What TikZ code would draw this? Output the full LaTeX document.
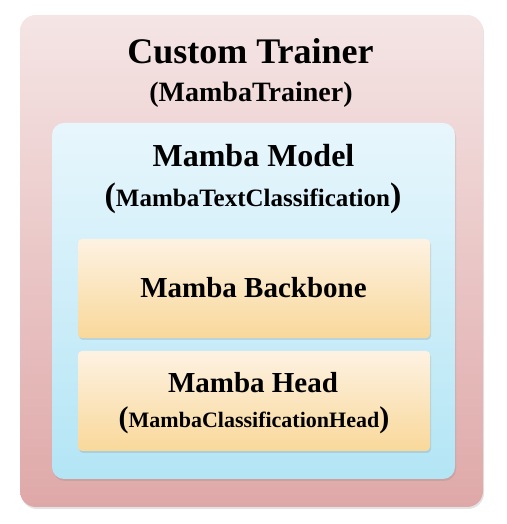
\documentclass[tikz,border=0pt]{standalone}
\usepackage{fontspec}
\setmainfont{Liberation Serif}
\usetikzlibrary{shadows}
\definecolor{redtop}{HTML}{F5E5E5}
\definecolor{redbot}{HTML}{DFA8A8}
\definecolor{bluetop}{HTML}{E8F6FC}
\definecolor{bluebot}{HTML}{B3E5F5}
\definecolor{orgtop}{HTML}{FDF2E2}
\definecolor{orgbot}{HTML}{F9D89A}
\tikzset{
  boxshadow/.style={drop shadow={opacity=0.22, shadow xshift=1pt, shadow yshift=-2pt}},
  outerbox/.style={rectangle, rounded corners=16pt, top color=redtop, bottom color=redbot, draw=none, boxshadow, inner sep=0pt},
  bluebox/.style={rectangle, rounded corners=12pt, top color=bluetop, bottom color=bluebot, draw=none, boxshadow, inner sep=0pt},
  orgbox/.style={rectangle, rounded corners=4pt, top color=orgtop, bottom color=orgbot, draw=none, boxshadow, inner sep=0pt},
  lbl/.style={anchor=base, inner sep=0pt, font=\bfseries, text=black}
}
\begin{document}
\begin{tikzpicture}[x=1pt,y=1pt]
\useasboundingbox (0,0) rectangle (506,524);
\node[outerbox, minimum width=463pt, minimum height=492pt] (trainer) at (251.5,263) {};
\node[bluebox, minimum width=403pt, minimum height=356pt] (model) at (253.5,223) {};
\node[orgbox, minimum width=352pt, minimum height=99pt] (backbone) at (254,235.5) {};
\node[orgbox, minimum width=352pt, minimum height=100pt] (head) at (254,123) {};
\node[lbl, font=\bfseries\fontsize{36}{40}\selectfont] (t1) at (250.5,460) {Custom Trainer};
\node[lbl, font=\bfseries\fontsize{28}{32}\selectfont] (t2) at (251,422) {(MambaTrainer)};
\node[lbl, font=\bfseries\fontsize{32}{36}\selectfont] (m1) at (253.5,357) {Mamba Model};
\node[lbl, font=\bfseries\fontsize{25}{30}\selectfont] (m2) at (253,317) {{\fontsize{34}{36}\selectfont(}MambaTextClassification{\fontsize{34}{36}\selectfont)}};
\node[lbl, font=\bfseries\fontsize{29}{32}\selectfont] (b1) at (253.5,226) {Mamba Backbone};
\node[lbl, font=\bfseries\fontsize{29}{32}\selectfont] (h1) at (253,131) {Mamba Head};
\node[lbl, font=\bfseries\fontsize{22}{26}\selectfont] (h2) at (254,96) {{\fontsize{30}{32}\selectfont(}MambaClassificationHead{\fontsize{30}{32}\selectfont)}};
\end{tikzpicture}
\end{document}
